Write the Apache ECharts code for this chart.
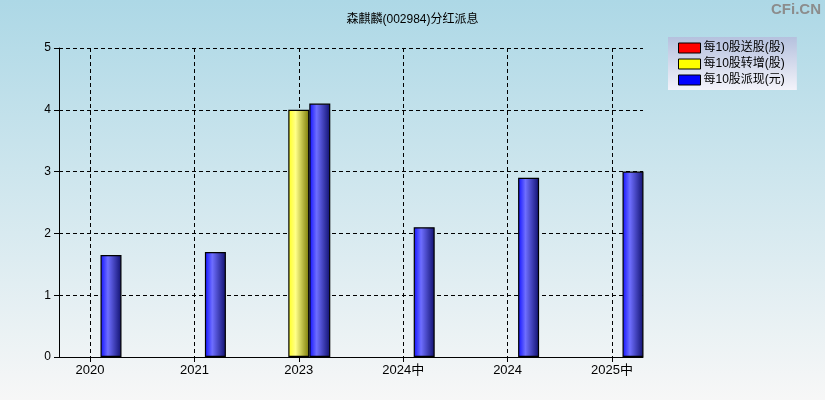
<!DOCTYPE html>
<html><head><meta charset="utf-8">
<script src="https://cdn.jsdelivr.net/npm/echarts@6/dist/echarts.min.js"></script>
<style>html,body{margin:0;padding:0;}#c{width:825px;height:400px;}</style>
</head><body><div id="c"></div>
<script>
const categories = ['2020','2021','2023','2024中','2024','2025中'];
const songGu = [0,0,0,0,0,0];      // 每10股送股(股)
const zhuanZeng = [0,0,4.0,0,0,0]; // 每10股转增(股)
const paiXian = [1.65,1.7,4.1,2.1,2.9,3.0]; // 每10股派现(元)
const yTicks = [0,1,2,3,4,5];
const seriesNames = ['每10股送股(股)','每10股转增(股)','每10股派现(元)'];

const chart = echarts.init(document.getElementById('c'));
const grad = (c0,c1,c2)=>({type:'linear',x:0,y:0,x2:1,y2:0,colorStops:[{offset:0,color:c0},{offset:0.35,color:c1},{offset:1,color:c2}]});
const nz = a => a.map(v => v === 0 ? null : v);
const dash = {color:'#000',width:1,type:[4,3]};
const font = 'Arial, "Liberation Sans", "Noto Sans CJK SC", sans-serif';

const mk = (name, data, color) => ({
  name, type:'bar', xAxisIndex:1, yAxisIndex:1, data:nz(data),
  barWidth:21, barGap:'0%', clip:false,
  itemStyle:{color, borderColor:'#000', borderWidth:1.2}
});

chart.setOption({
  animation:false,
  backgroundColor:{type:'linear',x:0,y:0,x2:0,y2:1,colorStops:[{offset:0,color:'#add8e6'},{offset:1,color:'#f7f7f7'}]},
  textStyle:{fontFamily:font},
  title:{text:'森麒麟(002984)分红派息',left:'center',top:9,textStyle:{fontSize:12,fontWeight:'normal',color:'#000',fontFamily:font}},
  graphic:[{type:'text',right:4,top:2,style:{text:'CFi.CN',fontSize:15,fontWeight:'bold',fill:'#8c8c8c',fontFamily:font}}],
  legend:{
    orient:'vertical', left:668, top:37, width:130, icon:'rect',
    padding:[5,12,4,10], itemGap:4, itemWidth:22, itemHeight:10,
    backgroundColor:{type:'linear',x:0,y:0,x2:0,y2:1,colorStops:[{offset:0,color:'#b5c1de'},{offset:1,color:'#f3f3fa'}]},
    textStyle:{fontSize:12,color:'#000',fontFamily:font,padding:[0,0,0,-2]},
    data:[
      {name:seriesNames[0],itemStyle:{color:'#ff0000',borderColor:'#000',borderWidth:1}},
      {name:seriesNames[1],itemStyle:{color:'#ffff00',borderColor:'#000',borderWidth:1}},
      {name:seriesNames[2],itemStyle:{color:'#0000ff',borderColor:'#000',borderWidth:1}}
    ]
  },
  grid:[
    {left:59,width:584,top:48,height:309,containLabel:false},
    {left:90,width:522,top:48,height:309,containLabel:false}
  ],
  xAxis:[
    {gridIndex:0,type:'value',min:0,max:1,axisLine:{show:true,lineStyle:{color:'#000',width:1}},axisTick:{show:false},axisLabel:{show:false},splitLine:{show:false}},
    {gridIndex:1,type:'category',data:categories,boundaryGap:false,
     axisLine:{show:false},axisTick:{show:true,length:5,lineStyle:{color:'#000'}},
     axisLabel:{fontSize:13,color:'#000',margin:7,fontFamily:font},
     splitLine:{show:true,lineStyle:dash}}
  ],
  yAxis:[
    {gridIndex:0,type:'value',min:0,max:5,interval:1,
     axisLine:{show:true,lineStyle:{color:'#000',width:1}},
     axisTick:{show:true,length:5,lineStyle:{color:'#000'}},
     axisLabel:{fontSize:12,color:'#000',margin:8,fontFamily:font,formatter:v=>yTicks.includes(v)?String(v):''},
     splitLine:{show:true,lineStyle:dash}},
    {gridIndex:1,type:'value',min:0,max:5,interval:1,show:false,splitLine:{show:false}}
  ],
  series:[
    mk(seriesNames[0], songGu, grad('#ff1010','#ff7070','#700000')),
    mk(seriesNames[1], zhuanZeng, grad('#ffff20','#ffff88','#7a7a05')),
    mk(seriesNames[2], paiXian, grad('#1010ff','#6e6eff','#10106e'))
  ]
});
</script></body></html>
